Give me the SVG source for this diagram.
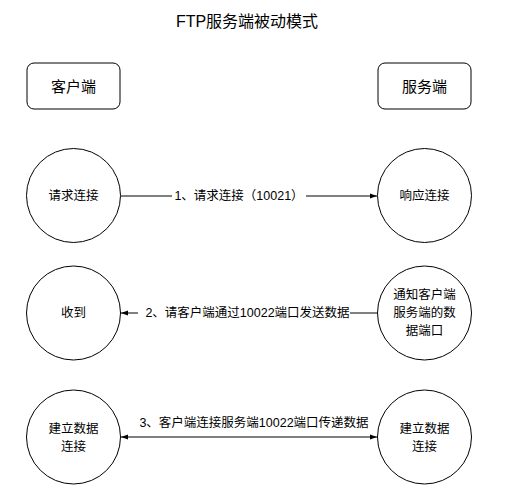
<svg xmlns="http://www.w3.org/2000/svg" width="520" height="500" viewBox="0 0 520 500">
<style>
text{font-family:"Liberation Sans","Noto Sans CJK SC",sans-serif;fill:#000;text-anchor:middle;dominant-baseline:central}
.t{font-size:12.5px}
.title{font-size:16px}
.box{font-size:15px}
.shape{fill:#fff;stroke:#000;stroke-width:1}
.edge{stroke:#000;stroke-width:1;fill:none}
.bg{fill:#fff}
</style>
<defs>
<marker id="ah" viewBox="0 0 10 10" refX="10" refY="5" markerWidth="7" markerHeight="7" orient="auto-start-reverse" markerUnits="userSpaceOnUse">
<path d="M0,1.5 L10,5 L0,8.5 Z" fill="#000"/>
</marker>
</defs>
<rect width="520" height="500" fill="#fff"/>
<text class="title" x="247" y="21">FTP服务端被动模式</text>
<g id="connectors">
<g id="e1">
<line class="edge" x1="121" y1="196" x2="377" y2="196" marker-end="url(#ah)"/>
<rect class="bg" x="172" y="186" width="134" height="20"/>
<text class="t" x="239" y="196">1、请求连接（10021）</text>
</g>
<g id="e2">
<line class="edge" x1="377" y1="313" x2="121" y2="313" marker-end="url(#ah)"/>
<rect class="bg" x="138" y="303" width="212" height="20"/>
<text class="t" x="247.5" y="313">2、请客户端通过10022端口发送数据</text>
</g>
<g id="e3">
<line class="edge" x1="121" y1="437" x2="377" y2="437" marker-start="url(#ah)" marker-end="url(#ah)"/>
<text class="t" x="254" y="423">3、客户端连接服务端10022端口传递数据</text>
</g>
</g>
<g id="client"><rect class="shape" x="27" y="63" width="93" height="46" rx="7"/><text class="box" x="73.5" y="86">客户端</text></g>
<g id="server"><rect class="shape" x="378" y="63" width="93" height="46" rx="7"/><text class="box" x="424.5" y="86">服务端</text></g>
<g id="c1"><circle class="shape" cx="73.5" cy="195.5" r="47"/><text class="t" x="73.5" y="196">请求连接</text></g>
<g id="s1"><circle class="shape" cx="424.5" cy="195.5" r="47"/><text class="t" x="424.5" y="196">响应连接</text></g>
<g id="c2"><circle class="shape" cx="73.5" cy="313" r="47"/><text class="t" x="73.5" y="313">收到</text></g>
<g id="s2"><circle class="shape" cx="424.5" cy="313" r="47"/><text class="t" x="424.5" y="295">通知客户端</text><text class="t" x="424.5" y="313">服务端的数</text><text class="t" x="424.5" y="331">据端口</text></g>
<g id="c3"><circle class="shape" cx="73.5" cy="437" r="47"/><text class="t" x="73.5" y="429">建立数据</text><text class="t" x="73.5" y="447">连接</text></g>
<g id="s3"><circle class="shape" cx="424.5" cy="437" r="47"/><text class="t" x="424.5" y="429">建立数据</text><text class="t" x="424.5" y="447">连接</text></g>
</svg>
